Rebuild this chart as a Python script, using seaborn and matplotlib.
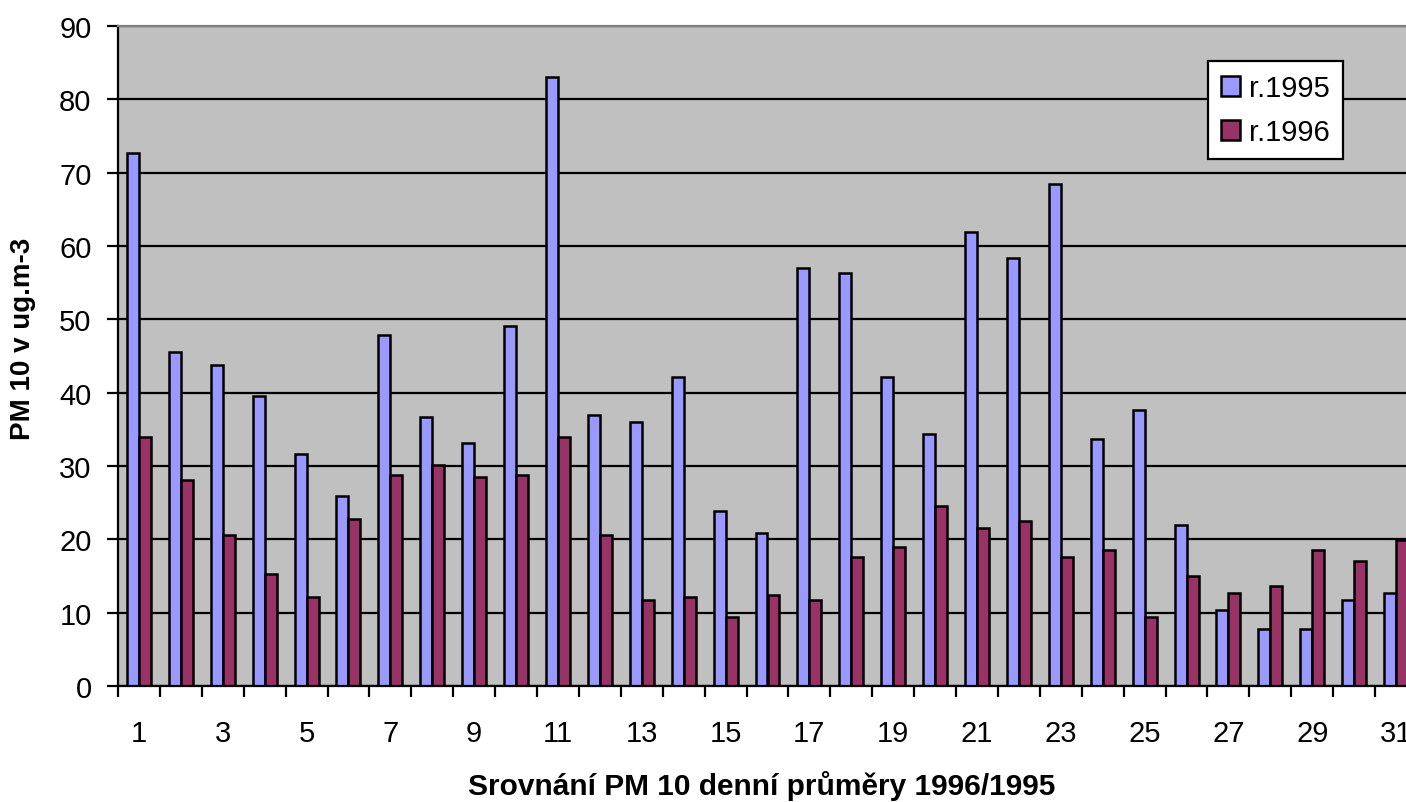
import matplotlib
matplotlib.use("Agg")
import matplotlib.pyplot as plt
import seaborn as sns
import pandas as pd
import numpy as np

days = [str(i) for i in range(1, 32)]
pm_1995 = [72.7, 45.5, 43.8, 39.6, 31.7, 25.9, 47.8, 36.7, 33.1, 49.1, 83.0,
           37.0, 36.0, 42.2, 23.8, 20.9, 57.0, 56.3, 42.2, 34.3, 61.9,
           58.3, 68.5, 33.7, 37.6, 21.9, 10.4, 7.8, 7.8, 11.7, 12.7]
pm_1996 = [34.0, 28.1, 20.6, 15.3, 12.1, 22.8, 28.8, 30.1, 28.5, 28.8, 34.0,
           20.6, 11.7, 12.1, 9.4, 12.4, 11.7, 17.6, 18.9, 24.6, 21.6,
           22.5, 17.6, 18.6, 9.4, 15.0, 12.7, 13.7, 18.6, 17.0, 19.9]
series_names = ["r.1995", "r.1996"]
y_ticks = [0, 10, 20, 30, 40, 50, 60, 70, 80, 90]

df = pd.DataFrame({
    "den": days * 2,
    "hodnota": pm_1995 + pm_1996,
    "rok": [series_names[0]] * len(days) + [series_names[1]] * len(days),
})

sns.set_theme(style="ticks")
plt.rcParams["font.family"] = ["Liberation Sans", "DejaVu Sans"]
plt.rcParams["text.color"] = "black"
plt.rcParams["xtick.color"] = "black"
plt.rcParams["ytick.color"] = "black"
plt.rcParams["xtick.labelcolor"] = "black"
plt.rcParams["ytick.labelcolor"] = "black"

W, H = 1406, 803
fig = plt.figure(figsize=(W / 100, H / 100), dpi=100)
ax = fig.add_axes([118 / W, (H - 687) / H, (1417 - 118) / W, (687 - 27) / H])
ax.set_facecolor("#C0C0C0")

sns.barplot(data=df, x="den", y="hodnota", hue="rok", order=days,
            hue_order=series_names, palette=["#9999FF", "#993366"],
            width=24 / 42, edgecolor="black", linewidth=1.8, ax=ax,
            saturation=1, legend=True, errorbar=None)

ax.set_xlim(-0.5, 30.5)
ax.set_ylim(0, 90)
ax.set_yticks(y_ticks)
ax.set_yticklabels([str(v) for v in y_ticks], fontsize=21)
ax.yaxis.grid(True, color="black", linewidth=1.6)
ax.set_axisbelow(True)

ax.set_xticks(range(0, 31, 2))
ax.set_xticklabels([days[i] for i in range(0, 31, 2)], fontsize=21)
ax.tick_params(axis="x", which="major", length=0, pad=24)
ax.set_xticks(np.arange(-0.5, 31, 1), minor=True)
ax.tick_params(axis="x", which="minor", length=8, width=1.6, color="black", direction="out")
ax.tick_params(axis="y", which="major", length=8, width=1.6, color="black", pad=11)

for s in ["left", "bottom"]:
    ax.spines[s].set_color("black")
    ax.spines[s].set_linewidth(1.6)
ax.spines["top"].set_color("#808080")
ax.spines["top"].set_linewidth(1.6)
ax.spines["right"].set_visible(False)

ax.set_xlabel("")
ax.set_ylabel("")
fig.text(762 / W, 1 - 786 / H, "Srovnání PM 10 denní průměry 1996/1995",
         ha="center", va="center", fontsize=21.5, fontweight="bold")
fig.text(23 / W, 1 - 339 / H, "PM 10 v ug.m-3", ha="center", va="center",
         rotation=90, fontsize=20, fontweight="bold")

leg = ax.legend(loc="upper left", bbox_to_anchor=(1208 / W, 1 - 62 / H),
                bbox_transform=fig.transFigure, borderaxespad=0, fontsize=21,
                frameon=True, fancybox=False, shadow=False, framealpha=1,
                handlelength=0.65, handleheight=0.65, handletextpad=0.3,
                labelspacing=0.55, borderpad=0.45)
leg.get_frame().set_edgecolor("black")
leg.get_frame().set_linewidth(1.6)
leg.get_frame().set_facecolor("white")

fig.savefig("out.png", dpi=100)
